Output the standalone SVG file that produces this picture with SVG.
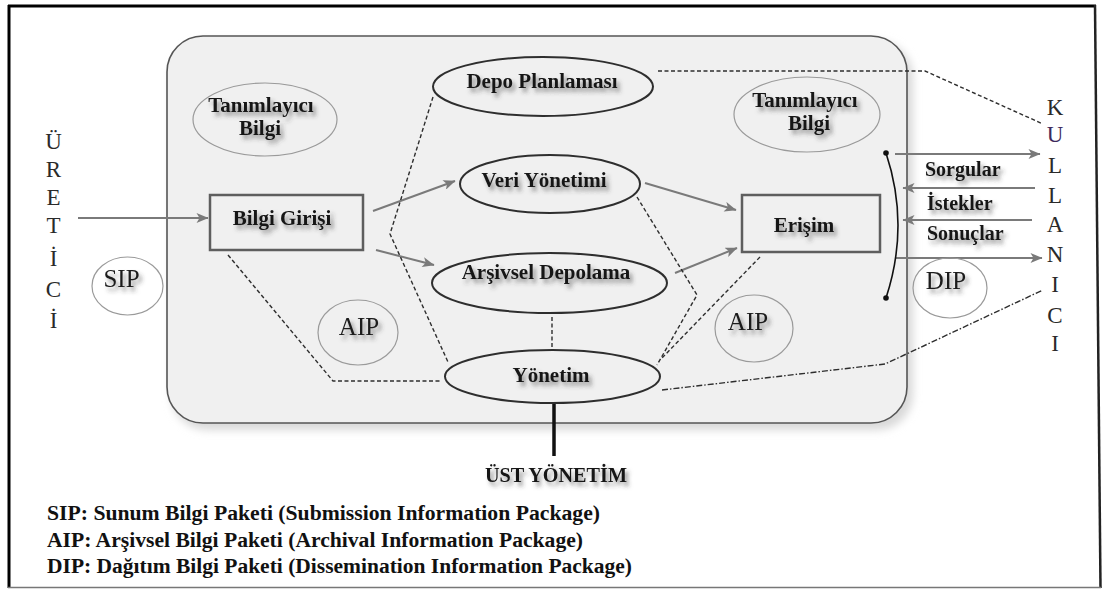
<svg xmlns="http://www.w3.org/2000/svg" width="1103" height="589" viewBox="0 0 1103 589">
  <defs>
    <style>
      .lbl { font-family: "Liberation Serif", "Times New Roman", serif; font-weight: bold; font-size: 21px; fill: #151515; text-anchor: middle; }
      .pkg { font-family: "Liberation Serif", "Times New Roman", serif; font-size: 25px; fill: #1c1c1c; text-anchor: middle; }
      .side { font-family: "Liberation Serif", "Times New Roman", serif; font-size: 23px; fill: #2a2a2a; text-anchor: middle; }
      .flow { font-family: "Liberation Serif", "Times New Roman", serif; font-weight: bold; font-size: 20px; fill: #151515; }
      .legend { font-family: "Liberation Serif", "Times New Roman", serif; font-weight: bold; font-size: 20px; fill: #111; }
      .proc { fill: none; stroke: #2e2e2e; stroke-width: 2; }
      .info { fill: none; stroke: #9a9a9a; stroke-width: 1.2; }
      .box { fill: none; stroke: #5e5e5e; stroke-width: 2.5; }
      .arrow { fill: none; stroke: #7a7a7a; stroke-width: 2; marker-end: url(#ah); }
      .dash { fill: none; stroke: #2e2e2e; stroke-width: 1.4; stroke-dasharray: 4 2.5; }
      .dashdot { fill: none; stroke: #2e2e2e; stroke-width: 1.4; stroke-dasharray: 6 2 1.5 2; }
    </style>
    <marker id="ah" viewBox="0 0 12 10" refX="11.5" refY="5" markerWidth="13" markerHeight="10" orient="auto" markerUnits="userSpaceOnUse">
      <path d="M0,0 L12,5 L0,10 L3,5 z" fill="#7a7a7a"/>
    </marker>
    <filter id="tshadow" x="-20%" y="-40%" width="150%" height="200%">
      <feDropShadow dx="3" dy="4" stdDeviation="2" flood-color="#3a3a3a" flood-opacity="0.55"/>
    </filter>
    <filter id="panelshadow" x="-5%" y="-5%" width="110%" height="110%">
      <feGaussianBlur stdDeviation="4"/>
    </filter>
  </defs>

  <!-- page and frame -->
  <rect x="0" y="0" width="1103" height="589" fill="#ffffff"/>
  <line x1="9" y1="5" x2="9" y2="588" stroke="#000" stroke-width="3"/>
  <line x1="8" y1="6" x2="1096" y2="6" stroke="#000" stroke-width="3"/>
  <line x1="1095" y1="5" x2="1100.5" y2="588" stroke="#222" stroke-width="2.5"/>
  <line x1="8" y1="587.5" x2="1101" y2="587.5" stroke="#777" stroke-width="1.5"/>

  <!-- archive system panel -->
  <g id="panel">
    <rect x="171" y="41" width="742" height="389" rx="36" fill="#d9d9d9" filter="url(#panelshadow)"/>
    <rect x="167" y="36" width="740" height="387" rx="36" fill="#f0f0f0" stroke="#555" stroke-width="1.6"/>
  </g>

  <!-- connectors -->
  <g id="connectors">
    <line class="arrow" x1="78" y1="218" x2="208" y2="218"/>
    <line class="arrow" x1="373" y1="211" x2="455" y2="181"/>
    <line class="arrow" x1="376" y1="250" x2="434" y2="265"/>
    <line class="arrow" x1="645" y1="183" x2="736" y2="210"/>
    <line class="arrow" x1="675" y1="273" x2="737" y2="248"/>
    <line class="arrow" x1="895" y1="154" x2="1040" y2="154"/>
    <line class="arrow" x1="1035" y1="188" x2="903" y2="188"/>
    <line class="arrow" x1="1032" y1="220" x2="903" y2="220"/>
    <line class="arrow" x1="895" y1="258" x2="1042" y2="258"/>

    <path d="M886,153 Q910,225 886,298" fill="none" stroke="#111" stroke-width="1.6"/>
    <circle cx="886" cy="153" r="2.8" fill="#111"/>
    <circle cx="886" cy="298" r="2.8" fill="#111"/>

    <polyline class="dash" points="658,71 925,71 1043,124"/>
    <polyline class="dash" points="433,97 390,234 448,362"/>
    <polyline class="dash" points="637,197 697,295 657,365"/>
    <line class="dash" x1="760" y1="257" x2="662" y2="358"/>
    <polyline class="dash" points="228,255 333,381 440,381"/>
    <line class="dash" x1="552" y1="317" x2="552" y2="347"/>
    <polyline class="dashdot" points="662,390 885,364 1043,290"/>

    <line x1="554" y1="403" x2="554" y2="456" stroke="#111" stroke-width="3.5"/>
  </g>

  <!-- descriptive information, left -->
  <g id="tanimlayici-sol">
    <ellipse class="info" cx="265" cy="119.5" rx="72" ry="36.5"/>
    <g class="lbl" filter="url(#tshadow)">
      <text x="261" y="112">Tanımlayıcı</text>
      <text x="260" y="135">Bilgi</text>
    </g>
  </g>

  <!-- storage planning -->
  <g id="depo-planlamasi">
    <ellipse class="proc" cx="543" cy="86.5" rx="110" ry="29.5"/>
    <text class="lbl" x="542" y="88" filter="url(#tshadow)">Depo Planlaması</text>
  </g>

  <!-- descriptive information, right -->
  <g id="tanimlayici-sag">
    <ellipse class="info" cx="807" cy="114.5" rx="73" ry="37.5"/>
    <g class="lbl" filter="url(#tshadow)">
      <text x="805" y="107">Tanımlayıcı</text>
      <text x="809" y="130">Bilgi</text>
    </g>
  </g>

  <!-- data management -->
  <g id="veri-yonetimi">
    <ellipse class="proc" cx="550" cy="184" rx="90" ry="29"/>
    <text class="lbl" x="544" y="187" filter="url(#tshadow)">Veri Yönetimi</text>
  </g>

  <!-- ingest -->
  <g id="bilgi-girisi">
    <rect class="box" x="210" y="195" width="153" height="55"/>
    <text class="lbl" x="282" y="225" filter="url(#tshadow)">Bilgi Girişi</text>
  </g>

  <!-- archival storage -->
  <g id="arsivsel-depolama">
    <ellipse class="proc" cx="549.5" cy="283" rx="117.5" ry="30"/>
    <text class="lbl" x="546" y="279" filter="url(#tshadow)">Arşivsel Depolama</text>
  </g>

  <!-- administration -->
  <g id="yonetim">
    <ellipse class="proc" cx="552.5" cy="376.5" rx="107.5" ry="26.5"/>
    <text class="lbl" x="551" y="382" filter="url(#tshadow)">Yönetim</text>
  </g>

  <!-- access -->
  <g id="erisim">
    <rect class="box" x="742" y="195" width="138" height="57"/>
    <text class="lbl" x="804" y="232" filter="url(#tshadow)">Erişim</text>
  </g>

  <!-- information packages -->
  <g id="aip-sol">
    <ellipse class="info" cx="358" cy="332.5" rx="40" ry="32.5"/>
    <text class="pkg" x="359" y="335" filter="url(#tshadow)">AIP</text>
  </g>
  <g id="aip-sag">
    <ellipse class="info" cx="754" cy="328.5" rx="39" ry="33.5"/>
    <text class="pkg" x="748" y="330" filter="url(#tshadow)">AIP</text>
  </g>
  <g id="sip">
    <ellipse class="info" cx="127.5" cy="286" rx="35.5" ry="29"/>
    <text class="pkg" x="121.5" y="287" filter="url(#tshadow)">SIP</text>
  </g>
  <g id="dip">
    <ellipse class="info" cx="950" cy="288" rx="37" ry="30"/>
    <text class="pkg" x="946" y="289" filter="url(#tshadow)">DIP</text>
  </g>

  <!-- producer -->
  <g id="uretici" class="side">
    <text x="53.5" y="149">Ü</text>
    <text x="53.5" y="177">R</text>
    <text x="53.5" y="205">E</text>
    <text x="53.5" y="233">T</text>
    <text x="53.5" y="266">İ</text>
    <text x="53.5" y="297">C</text>
    <text x="53.5" y="328">İ</text>
  </g>

  <!-- consumer -->
  <g id="kullanici" class="side">
    <text x="1055" y="115">K</text>
    <text x="1055" y="142" fill="#3d2a5c">U</text>
    <text x="1055" y="173">L</text>
    <text x="1055" y="203">L</text>
    <text x="1055" y="232">A</text>
    <text x="1055" y="262">N</text>
    <text x="1055" y="292">I</text>
    <text x="1055" y="323">C</text>
    <text x="1055" y="351">I</text>
  </g>

  <!-- exchange labels -->
  <g id="akis-etiketleri" class="flow" filter="url(#tshadow)">
    <text x="925" y="176">Sorgular</text>
    <text x="927" y="210">İstekler</text>
    <text x="927" y="240">Sonuçlar</text>
  </g>

  <!-- senior management -->
  <g id="ust-yonetim">
    <text class="flow" x="485" y="482" textLength="142" lengthAdjust="spacingAndGlyphs" font-size="21" filter="url(#tshadow)">ÜST YÖNETİM</text>
  </g>

  <!-- legend -->
  <g id="aciklama" class="legend">
    <text x="47" y="520" textLength="553" lengthAdjust="spacingAndGlyphs">SIP: Sunum Bilgi Paketi (Submission Information Package)</text>
    <text x="47" y="546.5" textLength="536" lengthAdjust="spacingAndGlyphs">AIP: Arşivsel Bilgi Paketi (Archival Information Package)</text>
    <text x="47" y="573" textLength="585" lengthAdjust="spacingAndGlyphs">DIP: Dağıtım Bilgi Paketi (Dissemination Information Package)</text>
  </g>
</svg>
